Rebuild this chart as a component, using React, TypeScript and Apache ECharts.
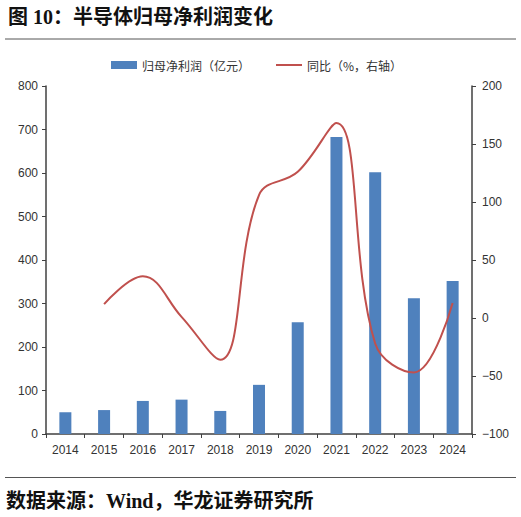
import React, { useEffect, useRef } from "react";
import * as echarts from "echarts";

const categories = ["2014", "2015", "2016", "2017", "2018", "2019", "2020", "2021", "2022", "2023", "2024"];
const netProfit = [50, 55, 76, 79, 53, 113, 257, 683, 602, 312, 352];
const yoy: (number | null)[] = [null, 12, 36, 1, -36, 106, 126, 168, -22, -47, 13];
const leftTicks = { min: 0, max: 800, interval: 100 };
const rightTicks = { min: -100, max: 200, interval: 50 };

const titleText = "图 10：半导体归母净利润变化";
const sourceText = "数据来源：Wind，华龙证券研究所";
const barName = "归母净利润（亿元）";
const lineName = "同比（%，右轴）";

export default function App() {
  const ref = useRef<HTMLDivElement>(null);
  useEffect(() => {
    if (!ref.current) return;
    const chart = echarts.init(ref.current, undefined, { renderer: "svg" });
    const axisColor = "#404040";
    const labelStyle = { color: "#333", fontSize: 12, fontFamily: "Arial, 'Liberation Sans', sans-serif" };
    chart.setOption({
      animation: false,
      backgroundColor: "#fff",
      graphic: [
        {
          type: "text",
          x: 8,
          y: 17,
          style: {
            text: titleText,
            fontSize: 20,
            fontWeight: "bold",
            fill: "#111",
            verticalAlign: "middle",
            fontFamily: "'Liberation Serif', 'Noto Sans CJK SC', serif",
          },
        },
        {
          type: "line",
          shape: { x1: 5, y1: 39, x2: 516, y2: 39 },
          style: { stroke: "#555", lineWidth: 1 },
        },
        {
          type: "line",
          shape: { x1: 5, y1: 477.5, x2: 516, y2: 477.5 },
          style: { stroke: "#555", lineWidth: 1 },
        },
        {
          type: "text",
          x: 6,
          y: 501,
          style: {
            text: sourceText,
            fontSize: 20,
            fontWeight: "bold",
            fill: "#111",
            verticalAlign: "middle",
            fontFamily: "'Liberation Serif', 'Noto Sans CJK SC', serif",
          },
        },
      ],
      legend: {
        top: 54,
        left: 106,
        itemGap: 26,
        itemWidth: 26,
        itemHeight: 8,
        textStyle: { color: "#333", fontSize: 12, fontFamily: "'Noto Sans CJK SC', sans-serif" },
        data: [
          { name: barName, icon: "rect" },
          { name: lineName, icon: "path://M0,0 L26,0 L26,2 L0,2 Z" },
        ],
      },
      grid: { left: 46, right: 49, top: 86, bottom: 83 },
      xAxis: {
        type: "category",
        data: categories,
        boundaryGap: true,
        axisLine: { lineStyle: { color: axisColor, width: 1.5 } },
        axisTick: { show: true, length: 4, alignWithLabel: false, lineStyle: { color: axisColor } },
        axisLabel: { ...labelStyle, margin: 10, interval: 0 },
      },
      yAxis: [
        {
          type: "value",
          ...leftTicks,
          position: "left",
          splitLine: { show: false },
          axisLine: { show: true, lineStyle: { color: axisColor, width: 1.5 } },
          axisTick: { show: true, length: 4, lineStyle: { color: axisColor } },
          axisLabel: { ...labelStyle, margin: 8 },
        },
        {
          type: "value",
          ...rightTicks,
          position: "right",
          splitLine: { show: false },
          axisLine: { show: true, lineStyle: { color: axisColor, width: 1.5 } },
          axisTick: { show: true, length: 4, lineStyle: { color: axisColor } },
          axisLabel: {
            ...labelStyle,
            margin: 10,
            formatter: (v: number) => String(v).replace("-", "−"),
          },
        },
      ],
      series: [
        {
          name: barName,
          type: "bar",
          data: netProfit,
          barWidth: 12,
          itemStyle: { color: "#4F81BD" },
          yAxisIndex: 0,
        },
        {
          name: lineName,
          type: "line",
          data: yoy,
          yAxisIndex: 1,
          smooth: 0.4,
          showSymbol: false,
          symbol: "none",
          connectNulls: false,
          lineStyle: { color: "#C0504D", width: 2 },
          itemStyle: { color: "#C0504D" },
        },
      ],
    });
    return () => chart.dispose();
  }, []);
  return (
    <div
      ref={ref}
      style={{ position: "fixed", left: 0, top: 0, width: 521, height: 517 }}
    />
  );
}
